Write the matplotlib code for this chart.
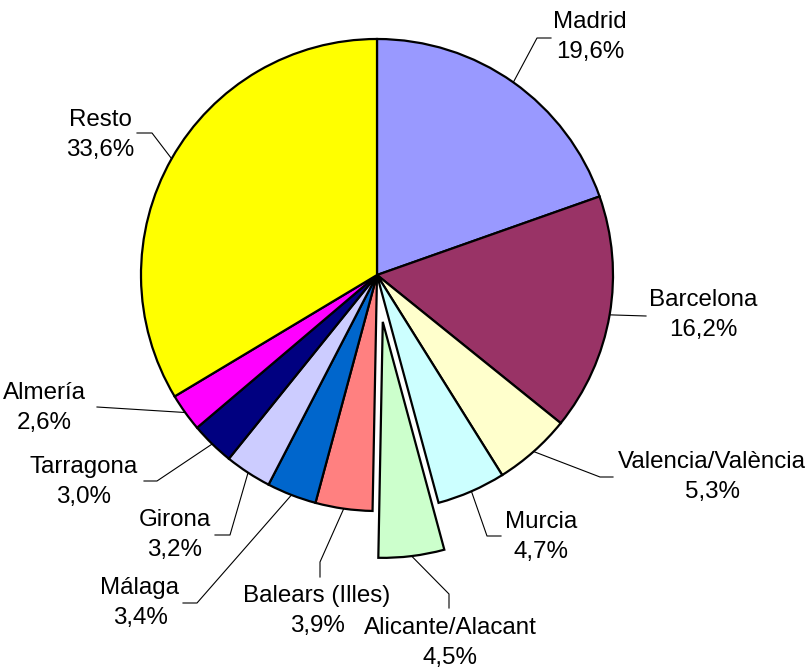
import numpy as np
import matplotlib
matplotlib.use("Agg")
import matplotlib.pyplot as plt

plt.rcParams['font.family'] = ['Liberation Sans', 'DejaVu Sans']

# data
provincias = ["Madrid", "Barcelona", "Valencia/València", "Murcia", "Alicante/Alacant",
              "Balears (Illes)", "Málaga", "Girona", "Tarragona", "Almería", "Resto"]
porcentajes = [19.6, 16.2, 5.3, 4.7, 4.5, 3.9, 3.4, 3.2, 3.0, 2.6, 33.6]
colores = ["#9999FF", "#993366", "#FFFFCC", "#CCFFFF", "#CCFFCC", "#FF8080",
           "#0066CC", "#CCCCFF", "#000080", "#FF00FF", "#FFFF00"]
separado = [0, 0, 0, 0, 0.2, 0, 0, 0, 0, 0, 0]

# layout (pixels of the 810x668 image): label centre, elbow, end of leader line
label_px = [(590, 37), (703, 315), (712, 477), (541, 537), (450, 643), (317, 611),
            (140, 603), (175, 535), (84, 482), (44, 408), (100, 135)]
elbow_px = [(537, 38), (646, 316), (600, 477), (487, 536), (449, 594), (320, 562),
            (197, 603), (230, 535), (157, 481), (97, 407), (152, 133)]
end_px = [(551, 38), (646, 316), (613, 477), (501, 536), (449, 608), (320, 577),
          (183, 603), (215, 535), (144, 481), (97, 407), (137, 133)]

W, H = 810, 668
CX, CY, R = 377, 275, 236


def px(p):
    return ((p[0] - CX) / R, (CY - p[1]) / R)


fig = plt.figure(figsize=(W / 100, H / 100), dpi=100)
ax = fig.add_axes([0, 0, 1, 1])

wedges, _ = ax.pie(porcentajes, colors=colores, explode=separado, startangle=90,
                   counterclock=False, radius=1, center=(0, 0), frame=True,
                   wedgeprops=dict(edgecolor='black', linewidth=1.6))
ax.set_xlim(-CX / R, (W - CX) / R)
ax.set_ylim(-(H - CY) / R, CY / R)
ax.set_aspect('auto')
ax.axis('off')

for i, w in enumerate(wedges):
    ang = np.deg2rad((w.theta1 + w.theta2) / 2)
    cx, cy = w.center
    sx, sy = cx + w.r * np.cos(ang), cy + w.r * np.sin(ang)
    ex, ey = px(elbow_px[i])
    fx, fy = px(end_px[i])
    ax.plot([sx, ex, fx], [sy, ey, fy], color='black', lw=0.8)
    lx, ly = px(label_px[i])
    txt = provincias[i] + "\n" + ("%.1f%%" % porcentajes[i]).replace(".", ",")
    ax.text(lx, ly, txt, ha='center', va='center', fontsize=17.4, linespacing=1.42)

fig.savefig("out.png", dpi=100, facecolor='white')
